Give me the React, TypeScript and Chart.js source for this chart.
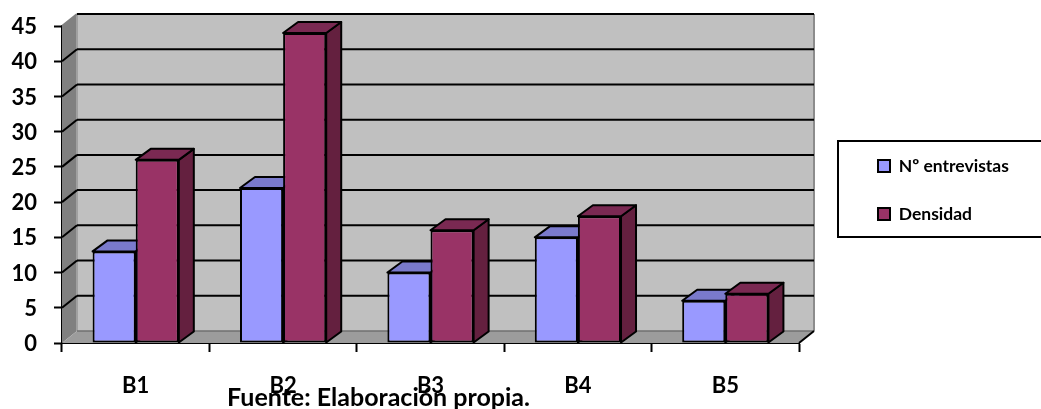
import React, { useEffect, useRef } from "react";
import { Chart, registerables } from "chart.js";

Chart.register(...registerables);

const categories = ["B1", "B2", "B3", "B4", "B5"];
const entrevistas = [13, 22, 10, 15, 6];
const densidad = [26, 44, 16, 18, 7];
const seriesNames = ["Nº entrevistas", "Densidad"];
const caption = "Fuente: Elaboración propia.";

const FONT = "Lato, Carlito, 'Open Sans', sans-serif";
const WALL_DX = 15;
const WALL_DY = 12;
const BAR_DX = 15;
const BAR_DY = 11;

function poly(ctx: CanvasRenderingContext2D, pts: number[][], fill: string | null, stroke: string | null, lw = 2) {
  ctx.beginPath();
  pts.forEach((p, i) => (i ? ctx.lineTo(p[0], p[1]) : ctx.moveTo(p[0], p[1])));
  ctx.closePath();
  if (fill) {
    ctx.fillStyle = fill;
    ctx.fill();
  }
  if (stroke) {
    ctx.strokeStyle = stroke;
    ctx.lineWidth = lw;
    ctx.lineJoin = "round";
    ctx.stroke();
  }
}

function line(ctx: CanvasRenderingContext2D, x1: number, y1: number, x2: number, y2: number, color: string, lw: number) {
  ctx.beginPath();
  ctx.moveTo(x1, y1);
  ctx.lineTo(x2, y2);
  ctx.strokeStyle = color;
  ctx.lineWidth = lw;
  ctx.stroke();
}

const faces: Record<number, { top: string; side: string }> = {
  0: { top: "#7a7acc", side: "#5c5c99" },
  1: { top: "#7a2952", side: "#64203f" },
};

const box3d = {
  id: "box3d",
  beforeLayout(chart: any) {
    const lg = chart.legend;
    if (lg && !lg.__wrapped) {
      const orig = lg.fit;
      lg.fit = function () {
        orig.call(this);
        this.width = 242;
      };
      lg.__wrapped = true;
    }
  },
  afterLayout(chart: any) {
    const lg = chart.legend;
    if (lg) {
      lg.left = 847.5;
      lg.right = 1041;
      lg.top = 126.75;
      lg.bottom = 409;
    }
  },
  beforeDatasetsDraw(chart: any) {
    const { ctx, chartArea: a, scales } = chart;
    const y = scales.y;
    const zero = y.getPixelForValue(0);
    const top = y.getPixelForValue(45);
    ctx.save();
    // back wall
    poly(ctx, [[a.left + WALL_DX, top - WALL_DY], [a.right + WALL_DX, top - WALL_DY], [a.right + WALL_DX, zero - WALL_DY], [a.left + WALL_DX, zero - WALL_DY]], "#c0c0c0", null);
    // side wall
    poly(ctx, [[a.left, top], [a.left + WALL_DX, top - WALL_DY], [a.left + WALL_DX, zero - WALL_DY], [a.left, zero]], "#808080", null);
    // floor
    poly(ctx, [[a.left, zero], [a.left + WALL_DX, zero - WALL_DY], [a.right + WALL_DX, zero - WALL_DY], [a.right, zero]], "#9c9c9c", null);
    line(ctx, a.left + WALL_DX, top - WALL_DY, a.left + WALL_DX, zero - WALL_DY, "#a0a0a0", 2);
    line(ctx, a.right + WALL_DX, top - WALL_DY, a.right + WALL_DX, zero - WALL_DY, "#8c8c8c", 2);
    line(ctx, a.left + WALL_DX, zero - WALL_DY, a.right + WALL_DX, zero - WALL_DY, "#707070", 1.5);
    // gridlines
    y.ticks.forEach((t: any) => {
      if (t.value === 0) return;
      const py = y.getPixelForValue(t.value);
      line(ctx, a.left, py, a.left + WALL_DX, py - WALL_DY, t.value === 45 ? "#808080" : "#000", 2);
      line(ctx, a.left + WALL_DX, py - WALL_DY, a.right + WALL_DX, py - WALL_DY, "#000", 2);
    });
    line(ctx, a.right, zero, a.right + WALL_DX, zero - WALL_DY, "#000", 2);
    // bar depth faces: first series, then second; the front faces are drawn afterwards by Chart.js
    [0, 1].forEach((index) => {
      const f = faces[index];
      chart.getDatasetMeta(index).data.forEach((bar: any) => {
        const l = bar.x - bar.width / 2;
        const r = bar.x + bar.width / 2;
        poly(ctx, [[r, bar.y], [r + BAR_DX, bar.y - BAR_DY], [r + BAR_DX, bar.base - BAR_DY], [r, bar.base]], f.side, "#000");
        poly(ctx, [[l, bar.y], [l + BAR_DX, bar.y - BAR_DY], [r + BAR_DX, bar.y - BAR_DY], [r, bar.y]], f.top, "#000");
      });
    });
    ctx.restore();
  },
  afterDraw(chart: any) {
    const { ctx } = chart;
    ctx.save();
    ctx.strokeStyle = "#000";
    ctx.lineWidth = 2;
    ctx.strokeRect(838, 141, 230, 96);
    ctx.restore();
  },
};

export default function App() {
  const ref = useRef<HTMLCanvasElement>(null);
  useEffect(() => {
    const chart = new Chart(ref.current as HTMLCanvasElement, {
      type: "bar",
      data: {
        labels: categories,
        datasets: [
          { label: seriesNames[0], data: entrevistas, backgroundColor: "#9999ff", borderColor: "#000", borderWidth: 2, borderSkipped: false },
          { label: seriesNames[1], data: densidad, backgroundColor: "#993366", borderColor: "#000", borderWidth: 2, borderSkipped: false },
        ],
      },
      options: {
        responsive: false,
        animation: false,
        layout: { padding: { top: 26, left: 0, right: 0, bottom: 0 } },
        datasets: { bar: { categoryPercentage: 0.585, barPercentage: 1 } },
        scales: {
          x: {
            afterFit: (s: any) => { s.height = 66; },
            grid: { drawOnChartArea: false, drawTicks: true, tickLength: 9, tickWidth: 2, tickColor: "#000", offset: true },
            border: { color: "#000", width: 2 },
            ticks: { color: "#000", padding: 21, font: { family: FONT, weight: "bold", size: 22 } },
          },
          y: {
            min: 0,
            max: 45,
            afterFit: (s: any) => { s.width = 62; s.paddingTop = 0; },
            grid: { drawOnChartArea: false, drawTicks: true, tickLength: 8, tickWidth: 2, tickColor: "#000" },
            border: { color: "#000", width: 2 },
            ticks: { stepSize: 5, color: "#000", padding: 17, labelOffset: 1, font: { family: FONT, weight: "bold", size: 22 } },
          },
        },
        plugins: {
          title: { display: false },
          tooltip: { enabled: false },
          legend: {
            display: true,
            position: "right",
            align: "start",
            labels: { color: "#000", boxWidth: 12, boxHeight: 12, padding: 30.5, font: { family: FONT, weight: "bold", size: 17.5 } },
          },
        },
      } as any,
      plugins: [box3d as any],
    });
    return () => chart.destroy();
  }, []);
  return (
    <div style={{ position: "absolute", left: 0, top: 0, width: 1041, height: 409, overflow: "hidden", background: "#fff" }}>
      <canvas ref={ref} width={1041} height={409} style={{ display: "block" }} />
      <div style={{ position: "absolute", left: 227, top: 382, fontFamily: FONT, fontWeight: 700, fontSize: 25, lineHeight: "28px", color: "#000", whiteSpace: "nowrap" }}>{caption}</div>
    </div>
  );
}
